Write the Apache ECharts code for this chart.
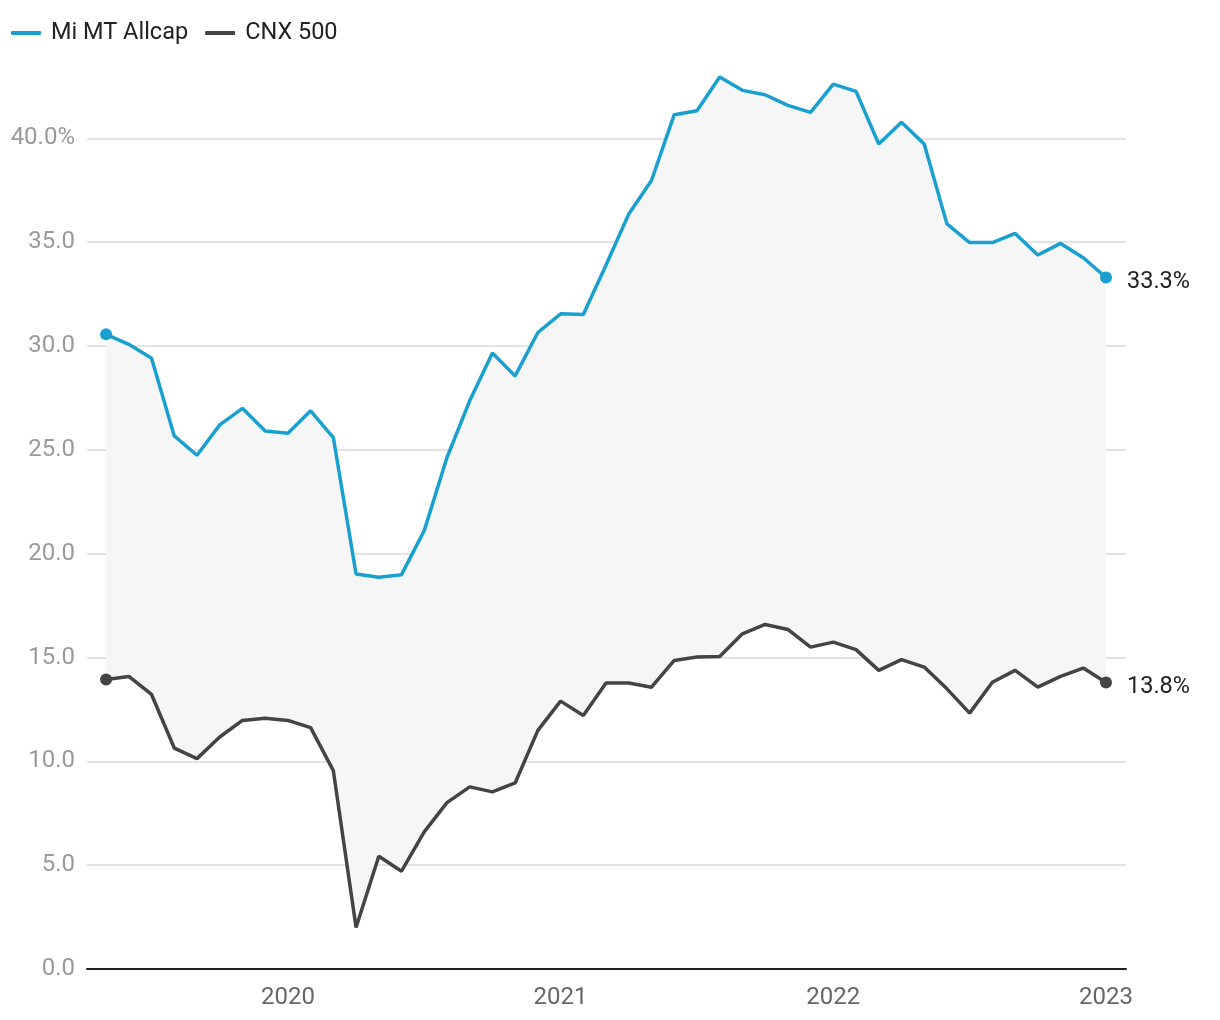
<!DOCTYPE html>
<html>
<head>
<meta charset="utf-8">
<script src="https://cdn.jsdelivr.net/npm/echarts@6/dist/echarts.min.js"></script>
<style>
html,body{margin:0;padding:0;background:#fff;}
#chart{width:1220px;height:1020px;}
</style>
</head>
<body>
<div id="chart"></div>
<script>
// Monthly observations, May 2019 – Jan 2023
const months = [
  '2019-05','2019-06','2019-07','2019-08','2019-09','2019-10','2019-11','2019-12',
  '2020-01','2020-02','2020-03','2020-04','2020-05','2020-06','2020-07','2020-08','2020-09','2020-10','2020-11','2020-12',
  '2021-01','2021-02','2021-03','2021-04','2021-05','2021-06','2021-07','2021-08','2021-09','2021-10','2021-11','2021-12',
  '2022-01','2022-02','2022-03','2022-04','2022-05','2022-06','2022-07','2022-08','2022-09','2022-10','2022-11','2022-12',
  '2023-01'
];
const miAllcap = [
  30.56, 30.08, 29.41, 25.67, 24.74, 26.20, 27.00, 25.91,
  25.80, 26.88, 25.59, 19.02, 18.86, 18.99, 21.11, 24.63, 27.36, 29.66, 28.56, 30.65,
  31.55, 31.52, 33.90, 36.36, 37.97, 41.14, 41.33, 42.95, 42.31, 42.10, 41.59, 41.25,
  42.61, 42.26, 39.73, 40.77, 39.73, 35.88, 34.98, 34.98, 35.42, 34.38, 34.94, 34.25,
  33.30
];
const cnx500 = [
  13.94, 14.09, 13.22, 10.64, 10.13, 11.17, 11.97, 12.08,
  11.97, 11.62, 9.55, 2.00, 5.43, 4.71, 6.60, 8.01, 8.77, 8.53, 8.96, 11.49,
  12.90, 12.21, 13.77, 13.77, 13.57, 14.86, 15.02, 15.05, 16.14, 16.59, 16.35, 15.50,
  15.74, 15.38, 14.38, 14.90, 14.54, 13.49, 12.32, 13.81, 14.38, 13.57, 14.09, 14.49,
  13.80
];
const xTickYears = [2020, 2021, 2022, 2023];
const yTicks = [0, 5, 10, 15, 20, 25, 30, 35, 40];

// month index counted from Jan 2019
function mIdx(s){ const [y,m] = s.split('-').map(Number); return (y-2019)*12 + (m-1); }
const xs = months.map(mIdx);
const last = months.length - 1;

const blueData = xs.map((x,i)=>[x, miAllcap[i]]);
const blackData = xs.map((x,i)=>[x, cnx500[i]]);
// for the shaded band: value first, month second (so stacking is on the value)
const bandBase = xs.map((x,i)=>[cnx500[i], x]);
const bandDiff = xs.map((x,i)=>[+(miAllcap[i]-cnx500[i]).toFixed(4), x]);

const FONT = 'Roboto';
const BLUE = '#19a0cf';
const DARK = '#444444';

const chart = echarts.init(document.getElementById('chart'), null, {renderer:'canvas'});
const endSym = (v, p) => (p.dataIndex === 0 || p.dataIndex === last) ? 'circle' : 'none';

chart.setOption({
  animation: false,
  textStyle: {fontFamily: FONT},
  legend: {
    left: 6, top: 16,
    icon: 'roundRect',
    itemWidth: 30, itemHeight: 4, itemGap: 17,
    data: ['Mi MT Allcap', 'CNX 500'],
    textStyle: {fontFamily: FONT, fontSize: 23.5, color: '#222', padding: [0, 0, 0, 5]}
  },
  grid: {left: 87, right: 94, top: 34.5, bottom: 51, containLabel: false},
  xAxis: {
    type: 'value',
    min: 3.16, max: 48.88,
    splitLine: {show: false},
    axisTick: {show: false},
    axisLine: {show: true, lineStyle: {color: '#222', width: 2}},
    axisLabel: {
      customValues: xTickYears.map(y => (y-2019)*12),
      formatter: v => String(2019 + Math.round(v/12)),
      fontFamily: FONT, fontSize: 24, color: '#666', margin: 17
    }
  },
  yAxis: {
    type: 'value',
    min: 0, max: 45, interval: 5,
    axisLine: {show: false},
    axisTick: {show: false},
    splitLine: {show: true, showMaxLine: false, lineStyle: {color: '#e3e3e3', width: 2}},
    axisLabel: {
      showMaxLabel: false,
      fontFamily: FONT, fontSize: 24, color: '#9a9a9a', margin: 12,
      formatter: v => (v === yTicks[yTicks.length-1] ? v.toFixed(1) + '%' : v.toFixed(1))
    }
  },
  series: [
    {
      name: 'bandBase', type: 'line', stack: 'band', data: bandBase,
      encode: {x: 1, y: 0},
      symbol: 'none', lineStyle: {opacity: 0}, areaStyle: {opacity: 0},
      silent: true, z: 1
    },
    {
      name: 'bandDiff', type: 'line', stack: 'band', data: bandDiff,
      encode: {x: 1, y: 0},
      symbol: 'none', lineStyle: {opacity: 0}, areaStyle: {color: '#f6f6f6', opacity: 1},
      silent: true, z: 1
    },
    {
      name: 'Mi MT Allcap', type: 'line', data: blueData, color: BLUE,
      lineStyle: {width: 3.5, color: BLUE},
      symbol: endSym, symbolSize: 12, showSymbol: true, showAllSymbol: true,
      itemStyle: {color: BLUE},
      endLabel: {show: true, distance: 21, offset: [0, 5], fontFamily: FONT, fontSize: 23.5, color: '#222',
        formatter: p => p.value[1].toFixed(1) + '%'},
      z: 3
    },
    {
      name: 'CNX 500', type: 'line', data: blackData, color: DARK,
      lineStyle: {width: 3.5, color: DARK},
      symbol: endSym, symbolSize: 12, showSymbol: true, showAllSymbol: true,
      itemStyle: {color: DARK},
      endLabel: {show: true, distance: 21, offset: [0, 5], fontFamily: FONT, fontSize: 23.5, color: '#222',
        formatter: p => p.value[1].toFixed(1) + '%'},
      z: 3
    }
  ]
});
</script>
</body>
</html>
